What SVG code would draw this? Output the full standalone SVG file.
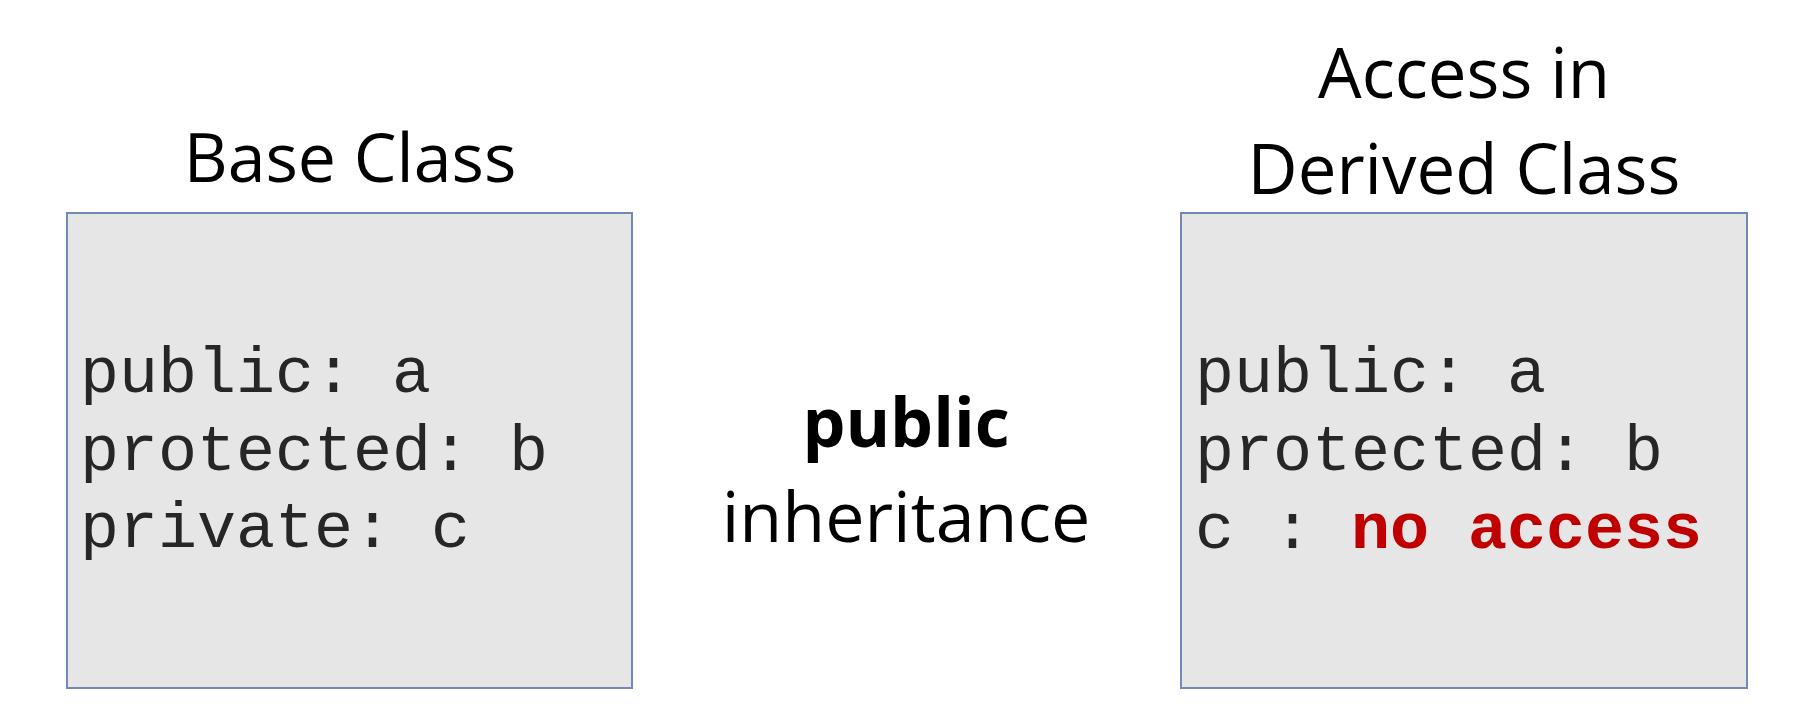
<svg xmlns="http://www.w3.org/2000/svg" width="1808" height="709" viewBox="0 0 1808 709">
  <style>
    .box { fill: #e6e6e6; stroke: #7389b6; stroke-width: 2; }
    .title { font-family: "Open Sans", "Noto Sans", sans-serif; font-size: 68px; fill: #000; text-anchor: middle; }
    .title-lg { font-size: 69px; }
    .code { font-family: "Liberation Mono", "Courier New", monospace; font-size: 65px; fill: #262626; }
    .code-bad { font-weight: bold; fill: #c00000; }
    .mid { font-family: "Open Sans", "Noto Sans", sans-serif; font-size: 68px; fill: #000; text-anchor: middle; }
    .mid-wide { font-size: 70px; }
  </style>
  <rect width="1808" height="709" fill="#ffffff"/>

  <!-- base class -->
  <g id="base-class">
    <text class="title" x="350" y="182">Base Class</text>
    <rect class="box" x="67" y="213" width="565" height="475"/>
    <text class="code" x="80" y="392">public: a</text>
    <text class="code" x="80" y="470">protected: b</text>
    <text class="code" x="80" y="547">private: c</text>
  </g>

  <!-- inheritance mode label -->
  <g id="inheritance-mode">
    <text class="mid" x="906" y="447" font-weight="bold">public</text>
    <text class="mid mid-wide" x="906" y="542">inheritance</text>
  </g>

  <!-- derived class access -->
  <g id="derived-class">
    <text class="title title-lg" x="1464" y="98">Access in</text>
    <text class="title title-lg" x="1464" y="194">Derived Class</text>
    <rect class="box" x="1181" y="213" width="566" height="475"/>
    <text class="code" x="1195" y="392">public: a</text>
    <text class="code" x="1195" y="470">protected: b</text>
    <text class="code" x="1195" y="548">c : <tspan class="code-bad">no access</tspan></text>
  </g>

  <g id="connectors"/>
</svg>
